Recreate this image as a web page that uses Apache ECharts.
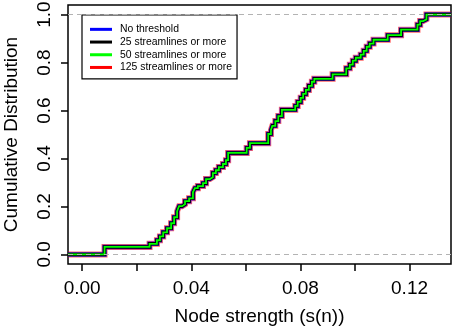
<!DOCTYPE html>
<html>
<head>
<meta charset="utf-8">
<script src="https://cdn.jsdelivr.net/npm/echarts@6/dist/echarts.min.js"></script>
<style>
  html, body { margin: 0; padding: 0; background: #fff; }
  #chart { width: 454px; height: 331px; }
</style>
</head>
<body>
<div id="chart"></div>
<script>
// ECDF step positions (node strength) and cumulative values after each jump
const stepX = [-0.0052, 0.0082, 0.0247, 0.0274, 0.0285, 0.0297, 0.0311, 0.0326, 0.0337, 0.0348, 0.0355,
  0.0366, 0.0377, 0.0392, 0.0406, 0.0413, 0.0424, 0.0443, 0.0454, 0.0468, 0.0479, 0.0490, 0.0501,
  0.0516, 0.0527, 0.0535, 0.0603, 0.0615, 0.0682, 0.0692, 0.0697, 0.0708, 0.0719, 0.0732, 0.0781,
  0.0790, 0.0801, 0.0810, 0.0820, 0.0831, 0.0842, 0.0851, 0.0918, 0.0968, 0.0981, 0.0992, 0.1003,
  0.1021, 0.1032, 0.1043, 0.1054, 0.1068, 0.1120, 0.1169, 0.1229, 0.1239, 0.1250, 0.1262, 0.1352];
const stepY = [0, 0.031, 0.044, 0.059, 0.075, 0.092, 0.109, 0.130, 0.155, 0.180, 0.201,
  0.209, 0.222, 0.234, 0.259, 0.276, 0.285, 0.297, 0.314, 0.322, 0.339, 0.351, 0.364,
  0.377, 0.393, 0.423, 0.444, 0.464, 0.502, 0.519, 0.536, 0.556, 0.577, 0.603, 0.619,
  0.636, 0.653, 0.669, 0.686, 0.703, 0.720, 0.732, 0.751, 0.776, 0.791, 0.808, 0.820,
  0.833, 0.849, 0.866, 0.879, 0.895, 0.914, 0.937, 0.958, 0.973, 0.980, 1.0, 1.0];

const seriesNames = ['No threshold', '25 streamlines or more', '50 streamlines or more', '125 streamlines or more'];
const seriesColors = ['#0000ff', '#000000', '#00ff00', '#ff0000'];

const xTicks = [0, 0.02, 0.04, 0.06, 0.08, 0.10, 0.12];
const xLabels = [0, 0.04, 0.08, 0.12];
const yTicks = [0, 0.2, 0.4, 0.6, 0.8, 1.0];
const refLines = [0, 1];

const points = stepX.map((x, i) => [x, stepY[i]]);

// drawing order: red underneath, then blue, black, green on top
const drawOrder = [3, 0, 1, 2];
const widths = { 0: 4.5, 1: 3.5, 2: 1.8, 3: 6 };
const opac = { 0: 0.75, 1: 1, 2: 1, 3: 0.6 };

const series = drawOrder.map((k, j) => {
  const s = {
    name: seriesNames[k],
    type: 'line',
    step: 'end',
    data: points,
    symbol: 'none',
    silent: true,
    color: seriesColors[k],
    lineStyle: { color: seriesColors[k], width: widths[k], opacity: opac[k], join: 'miter' }
  };
  if (j === drawOrder.length - 1) {
    s.markLine = {
      silent: true,
      symbol: 'none',
      label: { show: false },
      lineStyle: { color: '#b3b3b3', type: [5, 4], width: 1.2 },
      data: refLines.map(v => ({ yAxis: v }))
    };
  }
  return s;
});

const font = 'Liberation Sans, Arial, Helvetica, sans-serif';

const option = {
  animation: false,
  grid: {
    left: 68, right: 3, top: 5, bottom: 67,
    outerBoundsMode: 'none',
    show: true, borderColor: '#000', borderWidth: 1.5, backgroundColor: 'transparent'
  },
  legend: {
    data: seriesNames,
    orient: 'vertical',
    left: 82, top: 15,
    icon: 'rect',
    itemWidth: 22, itemHeight: 3,
    itemGap: 0,
    padding: [8, 5, 5, 8],
    borderColor: '#000', borderWidth: 1.2,
    backgroundColor: '#fff',
    itemStyle: { opacity: 1 },
    textStyle: { fontFamily: font, fontSize: 10.4, color: '#000', lineHeight: 12.7, padding: [0, 0, 0, 3] }
  },
  xAxis: {
    type: 'value',
    min: -0.0052, max: 0.1352,
    name: 'Node strength (s(n))',
    nameLocation: 'middle',
    nameGap: 43,
    nameMoveOverlap: false,
    nameTextStyle: { fontFamily: font, fontSize: 19, color: '#000' },
    axisLine: { show: false, onZero: false },
    axisTick: { show: true, length: 7, customValues: xTicks, lineStyle: { color: '#000', width: 1.5 } },
    axisLabel: {
      customValues: xLabels, margin: 15,
      fontFamily: font, fontSize: 19, color: '#000',
      formatter: v => v.toFixed(2)
    },
    splitLine: { show: false }
  },
  yAxis: {
    type: 'value',
    min: -0.04, max: 1.04,
    name: 'Cumulative Distribution',
    nameLocation: 'middle',
    nameGap: 47,
    nameMoveOverlap: false,
    nameTextStyle: { fontFamily: font, fontSize: 19, color: '#000' },
    axisLine: { show: false, onZero: false },
    axisTick: { show: true, length: 7, customValues: yTicks, lineStyle: { color: '#000', width: 1.5 } },
    axisLabel: {
      customValues: yTicks, margin: 14, rotate: 90,
      fontFamily: font, fontSize: 19, color: '#000',
      formatter: v => v.toFixed(1)
    },
    splitLine: { show: false }
  },
  series: series
};

const myChart = echarts.init(document.getElementById('chart'));
myChart.setOption(option);
</script>
</body>
</html>
